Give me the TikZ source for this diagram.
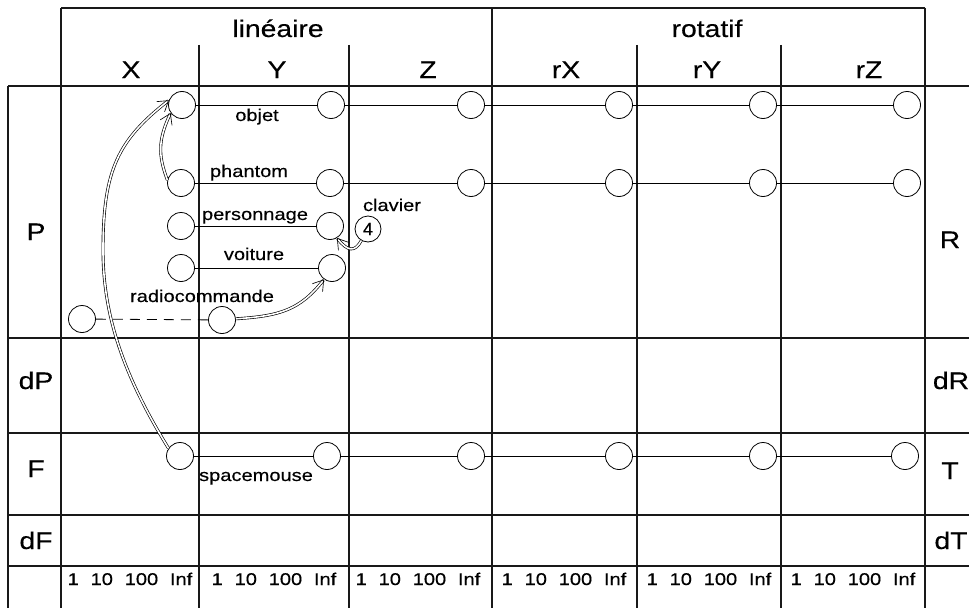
\documentclass[tikz,border=0pt]{standalone}
\usepackage{fontspec}
\setmainfont{Liberation Sans}[UprightFeatures={FakeBold=0.3}]
\usetikzlibrary{arrows.meta}
\newcommand\sx[1]{\scalebox{1.18}[1]{#1}}
\newcommand\scaletxt{\sx{1\hspace{10pt}10\hspace{10pt}100\hspace{10pt}Inf}}
\begin{document}
\begin{tikzpicture}[x=1pt,y=-1pt,
  grid/.style={line width=1.1pt, draw=black!90},
  pt/.style={circle, draw, fill=white, line width=0.8pt, minimum size=27pt, inner sep=0pt},
  big/.style={font=\fontsize{24}{27}\selectfont, inner sep=0pt, anchor=base},
  lab/.style={font=\fontsize{17}{19}\selectfont, inner sep=0pt, anchor=base},
  scl/.style={font=\fontsize{17}{19}\selectfont, inner sep=0pt, anchor=base},
  conn/.style={line width=0.8pt},
  dbl/.style={double, double distance=1.6pt, line width=0.65pt, -{Straight Barb[length=10pt,width=13pt]}}
]
\useasboundingbox (0,0) rectangle (969,610);
% grid
\draw[grid] (61,8) -- (925,8);
\foreach \yy in {86,338,433,515,566} \draw[grid] (8,\yy) -- (969,\yy);
\draw[grid] (8,86) -- (8,608);
\foreach \xx in {61,492,925} \draw[grid] (\xx,8) -- (\xx,608);
\foreach \xx in {199,349,637,781} \draw[grid] (\xx,45) -- (\xx,608);
% headers
\node[big] (hl) at (278,37) {\sx{linéaire}};
\node[big] (hr) at (707,37) {\sx{rotatif}};
\node[big] (hx) at (131,78) {\sx{X}};
\node[big] (hy) at (277,78) {\sx{Y}};
\node[big] (hz) at (428,78) {\sx{Z}};
\node[big] (hrx) at (566,78) {\sx{rX}};
\node[big] (hry) at (707,78) {\sx{rY}};
\node[big] (hrz) at (869,78) {\sx{rZ}};
% row labels
\node[big] (lp) at (36,240) {\sx{P}};
\node[big] (ldp) at (36,389) {\sx{dP}};
\node[big] (lf) at (36,477) {\sx{F}};
\node[big] (ldf) at (36,549) {\sx{dF}};
\node[big] (lr) at (950,248) {\sx{R}};
\node[big] (ldr) at (951,389) {\sx{dR}};
\node[big] (lt) at (950,479) {\sx{T}};
\node[big] (ldt) at (951,549) {\sx{dT}};
% scale
\foreach \cx/\nm in {130/s1,274/s2,418/s3,564/s4,709/s5,853/s6}
  \node[scl] (\nm) at (\cx,585) {\scaletxt};
% circles
\foreach \xx/\nm in {182/o1,331/o2,471/o3,619/o4,763/o5,907/o6}
  \node[pt] (\nm) at (\xx,105) {};
\foreach \xx/\nm in {181/p1,330/p2,471/p3,619/p4,763/p5,907/p6}
  \node[pt] (\nm) at (\xx,183) {};
\node[pt] (c1) at (181,226) {};
\node[pt] (c2) at (330,226) {};
\node[pt] (v1) at (181,268) {};
\node[pt] (v2) at (332,268) {};
\node[pt] (r1) at (82,319) {};
\node[pt] (r2) at (222,320) {};
\foreach \xx/\nm in {180/m1,327/m2,471/m3,619/m4,763/m5,905/m6}
  \node[pt] (\nm) at (\xx,456) {};
\node[pt, minimum size=26pt, font=\fontsize{18}{20}\selectfont] (k) at (368,229) {4};
% row lines
\draw[conn] (o1) -- (o2) -- (o3) -- (o4) -- (o5) -- (o6);
\draw[conn] (p1) -- (p2) -- (p3) -- (p4) -- (p5) -- (p6);
\draw[conn] (c1) -- (c2);
\draw[conn] (v1) -- (v2);
\draw[conn] (m1) -- (m2) -- (m3) -- (m4) -- (m5) -- (m6);
\draw[conn, dash pattern=on 10pt off 7pt] (r1) -- (r2);
% labels
\node[lab] (to) at (257,121) {\sx{objet}};
\node[lab] (tp) at (249,177) {\sx{phantom}};
\node[lab] (tc) at (255,220) {\sx{personnage}};
\node[lab] (tv) at (254,260) {\sx{voiture}};
\node[lab] (tr) at (202,302) {\sx{radiocommande}};
\node[lab] (tm) at (256,481) {\sx{spacemouse}};
\node[lab] (tk) at (392,211) {\sx{clavier}};
% arrows
\draw[dbl] (m1.146) .. controls (120,370) and (103,310) .. (103,250) .. controls (103,170) and (118,140) .. (o1.160);
\draw[dbl] (p1.168) .. controls (158,155) and (158,140) .. (o1.215);
\draw[dbl] (r2.5) .. controls (280,316) and (300,310) .. (v2.235);
\draw[dbl] (k.240) .. controls (355,252) and (348,252) .. (c2.300);
\end{tikzpicture}
\end{document}
